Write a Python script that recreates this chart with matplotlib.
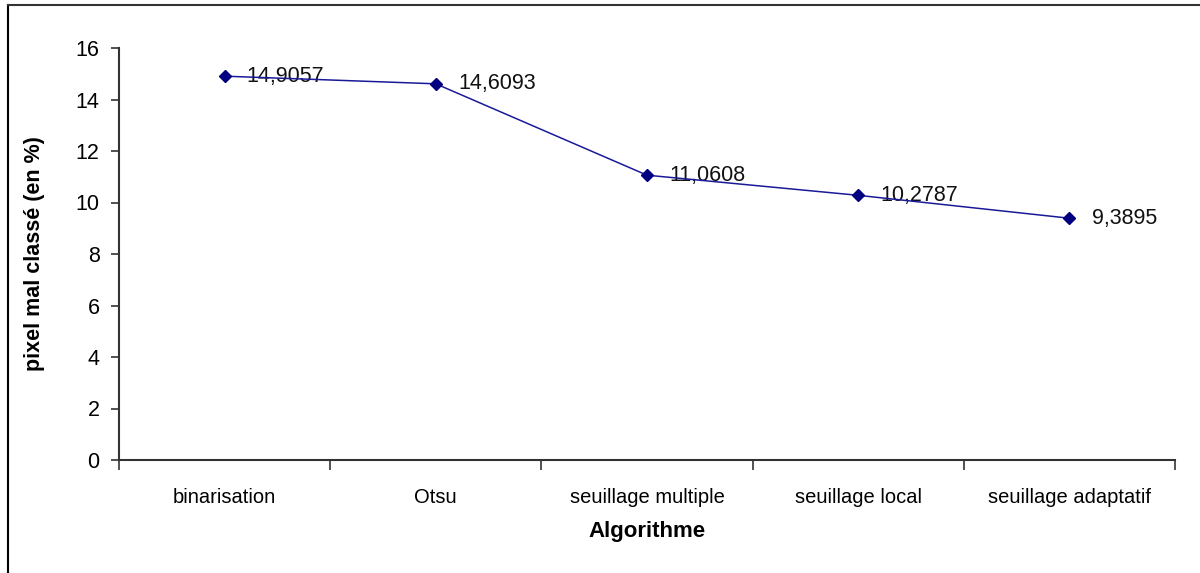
import matplotlib
matplotlib.use("Agg")
import matplotlib.pyplot as plt
from matplotlib.lines import Line2D

categories = ["binarisation", "Otsu", "seuillage multiple", "seuillage local", "seuillage adaptatif"]
values = [14.9057, 14.6093, 11.0608, 10.2787, 9.3895]
value_labels = ["14,9057", "14,6093", "11,0608", "10,2787", "9,3895"]
y_ticks = [0, 2, 4, 6, 8, 10, 12, 14, 16]

plt.rcParams['font.family'] = ['Liberation Sans', 'DejaVu Sans']

fig = plt.figure(figsize=(12, 5.73), dpi=100)
ax = fig.add_axes([119/1200, 1 - 460/573, (1175 - 119)/1200, (460 - 48)/573])

x = list(range(len(categories)))
ax.plot(x, values, color="#1a1a99", lw=1.1, marker="D", markersize=6.5,
        markerfacecolor="#000080", markeredgecolor="#000080", zorder=3)
for xi, v, lab in zip(x, values, value_labels):
    ax.annotate(lab, (xi, v), xytext=(16, 0), textcoords="offset points",
                ha="left", va="center", fontsize=15.5, color="#111111", zorder=2)

ax.set_xlim(-0.5, len(categories) - 0.5)
ax.set_ylim(0, 16)
ax.set_yticks(y_ticks)
ax.set_yticklabels([str(t) for t in y_ticks])
ax.set_xticks(x)
ax.set_xticklabels(categories)
ax.set_xticks([i - 0.5 for i in range(len(categories) + 1)], minor=True)
ax.tick_params(axis="x", which="major", length=0, pad=20, labelsize=14.5)
ax.tick_params(axis="x", which="minor", length=7, width=1.2, color="#333333", direction="out")
ax.tick_params(axis="y", length=6, width=1.2, color="#333333", labelsize=15.5, pad=8)

for s in ["top", "right"]:
    ax.spines[s].set_visible(False)
for s in ["left", "bottom"]:
    ax.spines[s].set_color("#333333")
    ax.spines[s].set_linewidth(1.5)

ax.set_ylabel("pixel mal classé (en %)", fontsize=15.5, fontweight="bold", labelpad=22)
ax.set_xlabel("Algorithme", fontsize=16, fontweight="bold", labelpad=10)

# chart frame (left and top)
fig.add_artist(Line2D([8/1200, 8/1200], [0, 1 - 5/573], transform=fig.transFigure, color="black", lw=1.5))
fig.add_artist(Line2D([8/1200, 1], [1 - 5/573, 1 - 5/573], transform=fig.transFigure, color="#333333", lw=1.5))

fig.savefig("out.png", dpi=100)
